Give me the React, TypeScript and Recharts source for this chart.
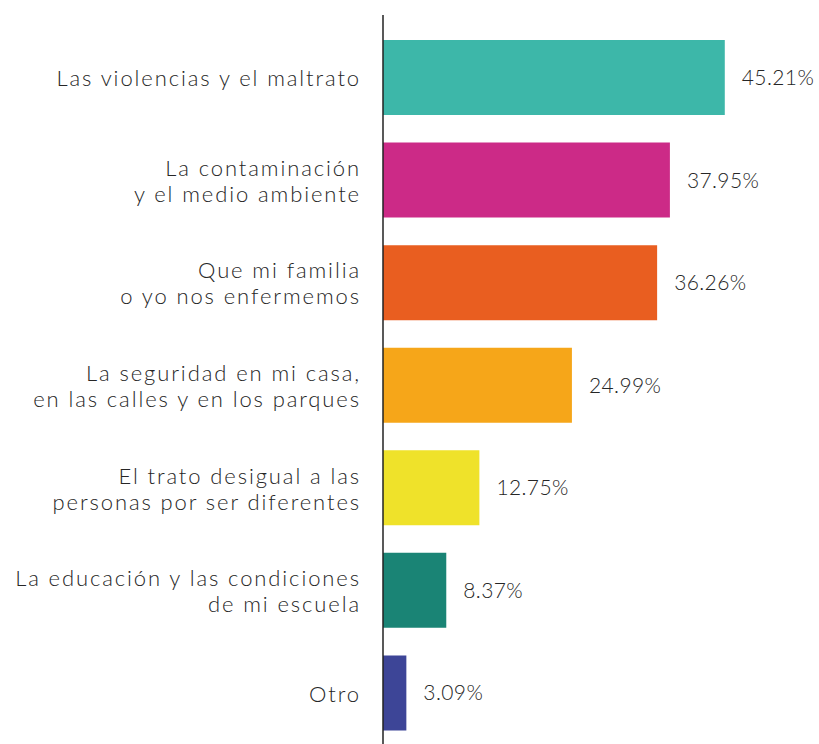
import { BarChart, Bar, XAxis, YAxis, Cell, LabelList } from 'recharts';

const categories = [
    ['Las violencias y el maltrato'],
    ['La contaminación', 'y el medio ambiente'],
    ['Que mi familia', 'o yo nos enfermemos'],
    ['La seguridad en mi casa,', 'en las calles y en los parques'],
    ['El trato desigual a las', 'personas por ser diferentes'],
    ['La educación y las condiciones', 'de mi escuela'],
    ['Otro'],
];

const values = [45.21, 37.95, 36.26, 24.99, 12.75, 8.37, 3.09];

const colors = ['#3db7a9', '#cc2a87', '#e95e20', '#f6a619', '#efe22a', '#1a8475', '#3d4597'];

const data = categories.map((lines, i) => ({
    name: lines.join('\n'),
    value: values[i],
}));

const FONT = 'Lato, "Open Sans", sans-serif';
const TEXT_COLOR = '#262626';

const CategoryTick = (props: any) => {
    const { x, y, payload } = props;
    const lines = String(payload.value).split('\n');
    const lineHeight = 26;
    const startY = y - ((lines.length - 1) * lineHeight) / 2;
    return (
        <text
            x={x}
            y={startY}
            textAnchor="end"
            dominantBaseline="central"
            fill={TEXT_COLOR}
            fontFamily={FONT}
            fontWeight={300}
            fontSize={22}
            letterSpacing={1.9}
        >
            {lines.map((line, i) => (
                <tspan key={i} x={x} dy={i === 0 ? 0 : lineHeight}>
                    {line}
                </tspan>
            ))}
        </text>
    );
};

export default function App() {
    return (
        <div style={{ position: 'absolute', left: 0, top: 0 }}>
            <BarChart
                width={819}
                height={744}
                data={data}
                layout="vertical"
                margin={{ top: 15, right: 58, bottom: 0, left: 0 }}
                barCategoryGap={27}
            >
                <XAxis type="number" domain={[0, 50]} hide />
                <YAxis
                    type="category"
                    dataKey="name"
                    width={383}
                    padding={{ top: 11, bottom: 0 }}
                    axisLine={{ stroke: '#222222', strokeWidth: 1.5 }}
                    tickLine={false}
                    tickSize={0}
                    tickMargin={22}
                    tick={<CategoryTick />}
                    interval={0}
                />
                <Bar dataKey="value" barSize={75} isAnimationActive={false}>
                    {data.map((_, index) => (
                        <Cell key={`cell-${index}`} fill={colors[index]} />
                    ))}
                    <LabelList
                        dataKey="value"
                        position="right"
                        offset={17}
                        formatter={(v: any) => `${Number(v).toFixed(2)}%`}
                        fill={TEXT_COLOR}
                        fontFamily={FONT}
                        fontWeight={300}
                        fontSize={21}
                        letterSpacing={0.4}
                    />
                </Bar>
            </BarChart>
        </div>
    );
}
